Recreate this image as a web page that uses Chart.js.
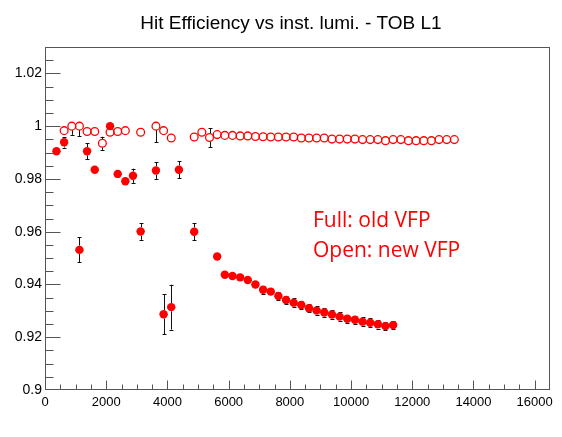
<!DOCTYPE html>
<html><head><meta charset="utf-8">
<script src="https://cdn.jsdelivr.net/npm/chart.js@4.4.0/dist/chart.umd.min.js"></script>
<style>html,body{margin:0;padding:0;background:#fff;}#wrap{width:562px;height:437px;}</style>
</head><body><div id="wrap"><canvas id="c" width="562" height="437"></canvas></div>
<script>
// Full markers: old VFP
const oldX = [375, 625, 1125, 1375, 1625, 2125, 2375, 2625, 2875, 3125, 3625, 3875, 4125, 4375, 4875, 5625,
  5875, 6125, 6375, 6625, 6875, 7125, 7375, 7625, 7875, 8125, 8375, 8625, 8875, 9125, 9375, 9625, 9875,
  10125, 10375, 10625, 10875, 11125, 11375];
const oldY = [0.9905, 0.9939, 0.9531, 0.9905, 0.9835, 1.0000, 0.9819, 0.9791, 0.9812, 0.9601, 0.9832, 0.9287, 0.9314, 0.9835, 0.9600, 0.9506,
  0.9437, 0.9432, 0.9427, 0.9417, 0.9400, 0.9380, 0.9373, 0.9356, 0.9341, 0.9331, 0.9322, 0.9310, 0.9301,
  0.9294, 0.9286, 0.9278, 0.9270, 0.9266, 0.9259, 0.9255, 0.9249, 0.9242, 0.9246];
const oldErrLo = [0.0008, 0.0020, 0.0047, 0.0030, 0.0008, 0.0008, 0.0008, 0.0008, 0.0027, 0.0032, 0.0032, 0.0075, 0.0085, 0.0033, 0.0032, 0.0010,
  0.0014, 0.0012, 0.0012, 0.0014, 0.0015, 0.0016, 0.0015, 0.0016, 0.0016, 0.0016, 0.0016, 0.0016, 0.0016,
  0.0016, 0.0016, 0.0016, 0.0016, 0.0016, 0.0016, 0.0016, 0.0016, 0.0016, 0.0016];
const oldErrHi = [0.0008, 0.0020, 0.0047, 0.0030, 0.0008, 0.0000, 0.0008, 0.0008, 0.0027, 0.0032, 0.0032, 0.0075, 0.0085, 0.0033, 0.0032, 0.0010,
  0.0014, 0.0012, 0.0012, 0.0014, 0.0015, 0.0016, 0.0015, 0.0016, 0.0016, 0.0016, 0.0016, 0.0016, 0.0016,
  0.0016, 0.0016, 0.0016, 0.0016, 0.0016, 0.0016, 0.0016, 0.0016, 0.0016, 0.0016];
const oldXErr = 125;

// Open markers: new VFP
const newX = [625, 875, 1125, 1375, 1625, 1875, 2125, 2375, 2625, 3125, 3625, 3875, 4125, 4875, 5125, 5375,
  5625, 5875, 6125, 6375, 6625, 6875, 7125, 7375, 7625, 7875, 8125, 8375, 8625, 8875, 9125, 9375, 9625, 9875,
  10125, 10375, 10625, 10875, 11125, 11375, 11625, 11875, 12125, 12375, 12625, 12875, 13125, 13375];
const newY = [0.9983, 1.0000, 1.0000, 0.9980, 0.9980, 0.9935, 0.9977, 0.9980, 0.9983, 0.9977, 1.0000, 0.9983, 0.9955, 0.9959, 0.9977, 0.9957,
  0.9968, 0.9965, 0.9965, 0.9963, 0.9963, 0.9961, 0.9960, 0.9959, 0.9959, 0.9959, 0.9959, 0.9955, 0.9955, 0.9955, 0.9955, 0.9951, 0.9951, 0.9951,
  0.9951, 0.9949, 0.9949, 0.9949, 0.9945, 0.9949, 0.9949, 0.9945, 0.9945, 0.9945, 0.9945, 0.9949, 0.9949, 0.9949];
const newErrLo = [0.0008, 0.0033, 0.0038, 0.0008, 0.0008, 0.0025, 0.0008, 0.0008, 0.0008, 0.0008, 0.0060, 0.0008, 0.0014, 0.0008, 0.0008, 0.0036,
  0.0005, 0.0005, 0.0005, 0.0005, 0.0005, 0.0005, 0.0005, 0.0005, 0.0005, 0.0005, 0.0005, 0.0005, 0.0005, 0.0005, 0.0005, 0.0005, 0.0005, 0.0005,
  0.0005, 0.0005, 0.0005, 0.0005, 0.0005, 0.0005, 0.0005, 0.0005, 0.0005, 0.0005, 0.0005, 0.0005, 0.0005, 0.0005];
const newErrHi = [0.0008, 0.0000, 0.0000, 0.0008, 0.0008, 0.0025, 0.0008, 0.0008, 0.0008, 0.0008, 0.0000, 0.0008, 0.0014, 0.0008, 0.0008, 0.0036,
  0.0005, 0.0005, 0.0005, 0.0005, 0.0005, 0.0005, 0.0005, 0.0005, 0.0005, 0.0005, 0.0005, 0.0005, 0.0005, 0.0005, 0.0005, 0.0005, 0.0005, 0.0005,
  0.0005, 0.0005, 0.0005, 0.0005, 0.0005, 0.0005, 0.0005, 0.0005, 0.0005, 0.0005, 0.0005, 0.0005, 0.0005, 0.0005];

const xMajorTicks = [0, 2000, 4000, 6000, 8000, 10000, 12000, 14000, 16000];
const yMajorTicks = [0.9, 0.92, 0.94, 0.96, 0.98, 1, 1.02];
const titleText = 'Hit Efficiency vs inst. lumi. - TOB L1';
const noteLines = ['Full: old VFP', 'Open: new VFP'];

const isMajor = (list, v) => list.some(t => Math.abs(t - v) < 1e-7);
const fmtY = v => String(parseFloat(v.toFixed(3)));

const oldData = oldX.map((x, i) => ({x, y: oldY[i]}));
const newData = newX.map((x, i) => ({x, y: newY[i]}));
const errInfo = [
  {lo: oldErrLo, hi: oldErrHi, xerr: oldXErr, r: 4.2},
  {lo: newErrLo, hi: newErrHi, xerr: 0, r: 4.0}
];

const rootPlugin = {
  id: 'rootStyle',
  beforeDatasetsDraw(chart) {
    const ctx = chart.ctx, a = chart.chartArea;
    const xs = chart.scales.x, ys = chart.scales.y;
    ctx.save();
    // frame
    ctx.strokeStyle = '#555';
    ctx.lineWidth = 1;
    const L = Math.round(a.left) + 0.5, R = Math.round(a.right) - 0.5, T = Math.round(a.top) + 0.5, B = Math.round(a.bottom) - 0.5;
    ctx.strokeRect(L, T, R - L, B - T);
    // inward ticks
    ctx.beginPath();
    xs.ticks.forEach(t => {
      if (t.value <= xs.min || t.value >= xs.max) return;
      const px = Math.round(xs.getPixelForValue(t.value)) + 0.5;
      const len = isMajor(xMajorTicks, t.value) ? 9 : 5;
      ctx.moveTo(px, B); ctx.lineTo(px, B - len);
    });
    ys.ticks.forEach(t => {
      if (t.value <= ys.min + 1e-9 || t.value >= ys.max - 1e-9) return;
      const py = Math.round(ys.getPixelForValue(t.value)) + 0.5;
      const len = isMajor(yMajorTicks, t.value) ? 15 : 8;
      ctx.moveTo(L, py); ctx.lineTo(L + len, py);
    });
    ctx.stroke();
    // error bars
    ctx.strokeStyle = '#111';
    ctx.lineWidth = 1;
    chart.data.datasets.forEach((ds, di) => {
      const info = errInfo[di];
      ds.data.forEach((p, i) => {
        const px = xs.getPixelForValue(p.x), py = ys.getPixelForValue(p.y);
        const top = ys.getPixelForValue(p.y + info.hi[i]);
        const bot = ys.getPixelForValue(p.y - info.lo[i]);
        const r = info.r;
        ctx.beginPath();
        const cx = Math.round(px) + 0.5;
        if (py - top > r) {
          ctx.moveTo(cx, top); ctx.lineTo(cx, py - r);
          ctx.moveTo(cx - 2, Math.round(top) + 0.5); ctx.lineTo(cx + 2, Math.round(top) + 0.5);
        }
        if (bot - py > r) {
          ctx.moveTo(cx, py + r); ctx.lineTo(cx, bot);
          ctx.moveTo(cx - 2, Math.round(bot) + 0.5); ctx.lineTo(cx + 2, Math.round(bot) + 0.5);
        }
        if (info.xerr > 0) {
          const xl = xs.getPixelForValue(p.x - info.xerr), xr = xs.getPixelForValue(p.x + info.xerr);
          const cy = Math.round(py) + 0.5;
          ctx.moveTo(xl, cy); ctx.lineTo(xr, cy);
        }
        ctx.stroke();
      });
    });
    ctx.restore();
  },
  afterDraw(chart) {
    const ctx = chart.ctx;
    ctx.save();
    ctx.fillStyle = '#000';
    ctx.font = "19px 'Liberation Sans', Arial, sans-serif";
    ctx.textAlign = 'center';
    ctx.textBaseline = 'alphabetic';
    ctx.fillText(titleText, 291, 28.5);
    ctx.fillStyle = '#ff0000';
    ctx.font = "21px 'Open Sans', sans-serif";
    ctx.textAlign = 'left';
    ctx.fillText(noteLines[0], 313, 227);
    ctx.fillText(noteLines[1], 313, 257);
    ctx.restore();
  }
};

new Chart(document.getElementById('c'), {
  type: 'scatter',
  data: {
    datasets: [
      {label: 'Full: old VFP', data: oldData, pointStyle: 'circle', pointRadius: 4.2, pointHoverRadius: 4.2,
       backgroundColor: '#ff0000', borderColor: '#ff0000', borderWidth: 0, showLine: false},
      {label: 'Open: new VFP', data: newData, pointStyle: 'circle', pointRadius: 3.9, pointHoverRadius: 3.9,
       backgroundColor: 'rgba(0,0,0,0)', borderColor: '#ff0000', borderWidth: 1.3, showLine: false}
    ]
  },
  options: {
    responsive: false,
    animation: false,
    devicePixelRatio: 1,
    layout: {padding: {top: 47, right: 12, left: 0, bottom: 0}},
    plugins: {legend: {display: false}, tooltip: {enabled: false}, title: {display: false}},
    scales: {
      x: {
        type: 'linear', min: 0, max: 16500,
        grid: {display: false, drawTicks: false},
        border: {display: false},
        ticks: {
          stepSize: 500, autoSkip: false, maxRotation: 0, minRotation: 0, padding: 5,
          color: '#000', font: {family: "'Liberation Sans', Arial, sans-serif", size: 13},
          callback: v => isMajor(xMajorTicks, v) ? String(v) : ''
        },
        afterFit: s => { s.height = 47; }
      },
      y: {
        type: 'linear', min: 0.9, max: 1.03,
        grid: {display: false, drawTicks: false},
        border: {display: false},
        ticks: {
          stepSize: 0.005, autoSkip: false, padding: 3,
          color: '#000', font: {family: "'Liberation Sans', Arial, sans-serif", size: 14},
          callback: v => isMajor(yMajorTicks, v) ? fmtY(v) : ''
        },
        afterFit: s => { s.width = 45; }
      }
    }
  },
  plugins: [rootPlugin]
});
</script>
</body></html>
